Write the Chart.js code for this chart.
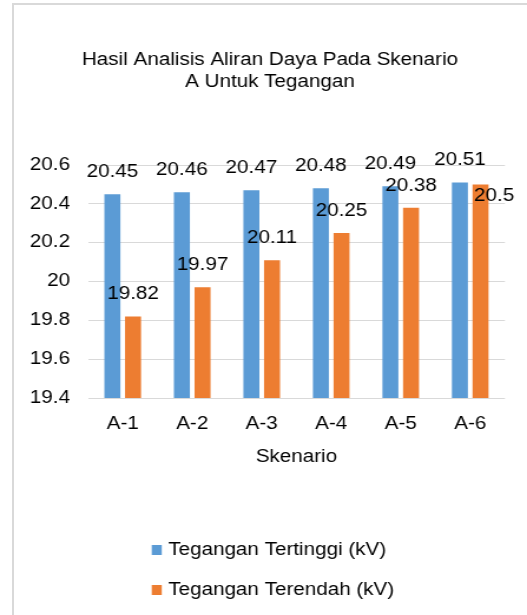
<!DOCTYPE html>
<html>
<head>
<meta charset="utf-8">
<script src="https://cdn.jsdelivr.net/npm/chart.js@4.4.0/dist/chart.umd.min.js"></script>
<style>
  html, body { margin: 0; padding: 0; background: #fff; overflow: hidden; }
  #frame { position: absolute; left: 12px; top: 3px; width: 600px; height: 700px; border: 2px solid #d9d9d9; }
  #chart { position: absolute; left: 0; top: 0; }
</style>
</head>
<body>
<div id="frame"></div>
<!-- drawn at 447 wide and stretched to 527, the source picture is a bit wider than tall -->
<canvas id="chart" width="447" height="615" style="width:527px;height:615px"></canvas>
<script>
const titleLines = ['Hasil Analisis Aliran Daya Pada Skenario', 'A Untuk Tegangan'];
const categories = ['A-1', 'A-2', 'A-3', 'A-4', 'A-5', 'A-6'];
const highest = [20.45, 20.46, 20.47, 20.48, 20.49, 20.51];
const lowest = [19.82, 19.97, 20.11, 20.25, 20.38, 20.5];
const seriesNames = ['Tegangan Tertinggi (kV)', 'Tegangan Terendah (kV)'];
const yTicks = [19.4, 19.6, 19.8, 20, 20.2, 20.4, 20.6];
const xTitle = 'Skenario';

const fontFamily = '"Liberation Sans", Arial, sans-serif';
const fontSize = 17.5;
const textColor = '#000';

// title is centred a little right of the canvas middle, so draw it here
const chartTitle = {
    id: 'chartTitle',
    afterDraw(chart) {
        const ctx = chart.ctx;
        ctx.save();
        ctx.font = `${fontSize}px ${fontFamily}`;
        ctx.fillStyle = textColor;
        ctx.textAlign = 'center';
        ctx.textBaseline = 'middle';
        titleLines.forEach((line, i) => ctx.fillText(line, 229, 60 + i * 22));
        ctx.restore();
    }
};

// value labels above each bar; the last orange one sits inside its bar like in the source
const valueLabels = {
    id: 'valueLabels',
    afterDatasetsDraw(chart) {
        const ctx = chart.ctx;
        ctx.save();
        ctx.font = `${fontSize}px ${fontFamily}`;
        ctx.fillStyle = textColor;
        ctx.textBaseline = 'middle';
        chart.data.datasets.forEach((ds, di) => {
            chart.getDatasetMeta(di).data.forEach((bar, i) => {
                const text = String(ds.data[i]);
                if (di === 1 && i === ds.data.length - 1) {
                    ctx.textAlign = 'left';
                    ctx.fillText(text, bar.x - bar.width / 2 + 1.3, bar.y + 12);
                } else {
                    ctx.textAlign = 'center';
                    ctx.fillText(text, bar.x, bar.y - 22);
                }
            });
        });
        ctx.restore();
    }
};

// stacked legend under the axis title
const stackedLegend = {
    id: 'stackedLegend',
    afterDraw(chart) {
        const ctx = chart.ctx;
        ctx.save();
        ctx.font = `${fontSize}px ${fontFamily}`;
        ctx.textBaseline = 'middle';
        ctx.textAlign = 'left';
        chart.data.datasets.forEach((ds, di) => {
            const y = 550 + di * 40;
            ctx.fillStyle = ds.backgroundColor;
            ctx.fillRect(128.7, y - 5, 8.5, 10);
            ctx.fillStyle = textColor;
            ctx.fillText(ds.label, 142.7, y);
        });
        ctx.restore();
    }
};

const ctx = document.getElementById('chart').getContext('2d');

new Chart(ctx, {
    type: 'bar',
    data: {
        labels: categories,
        datasets: [
            { label: seriesNames[0], data: highest, backgroundColor: '#5b9bd5' },
            { label: seriesNames[1], data: lowest, backgroundColor: '#ed7d31' }
        ]
    },
    options: {
        responsive: false,
        animation: false,
        categoryPercentage: 0.594,
        barPercentage: 0.775,
        layout: { padding: { left: 12, right: 18.7, top: 165, bottom: 147.5 } },
        plugins: {
            legend: { display: false },
            tooltip: { enabled: false },
            title: { display: false }
        },
        scales: {
            x: {
                grid: { display: false, drawTicks: false },
                border: { display: false },
                ticks: { color: textColor, font: { family: fontFamily, size: fontSize }, padding: 15.5 },
                title: {
                    display: true,
                    text: xTitle,
                    color: textColor,
                    font: { family: fontFamily, size: fontSize },
                    padding: 0
                },
                afterFit: (s) => { s.height = 69.5; }
            },
            y: {
                min: yTicks[0],
                max: yTicks[yTicks.length - 1],
                grid: { color: '#d9d9d9', lineWidth: 1, drawTicks: false },
                border: { display: false },
                ticks: {
                    color: textColor,
                    font: { family: fontFamily, size: fontSize },
                    padding: 15.2,
                    callback: (v) => String(v)
                },
                afterBuildTicks: (s) => { s.ticks = yTicks.map(v => ({ value: v })); },
                afterFit: (s) => { s.width = 62.6; }
            }
        }
    },
    plugins: [chartTitle, valueLabels, stackedLegend]
});
</script>
</body>
</html>
